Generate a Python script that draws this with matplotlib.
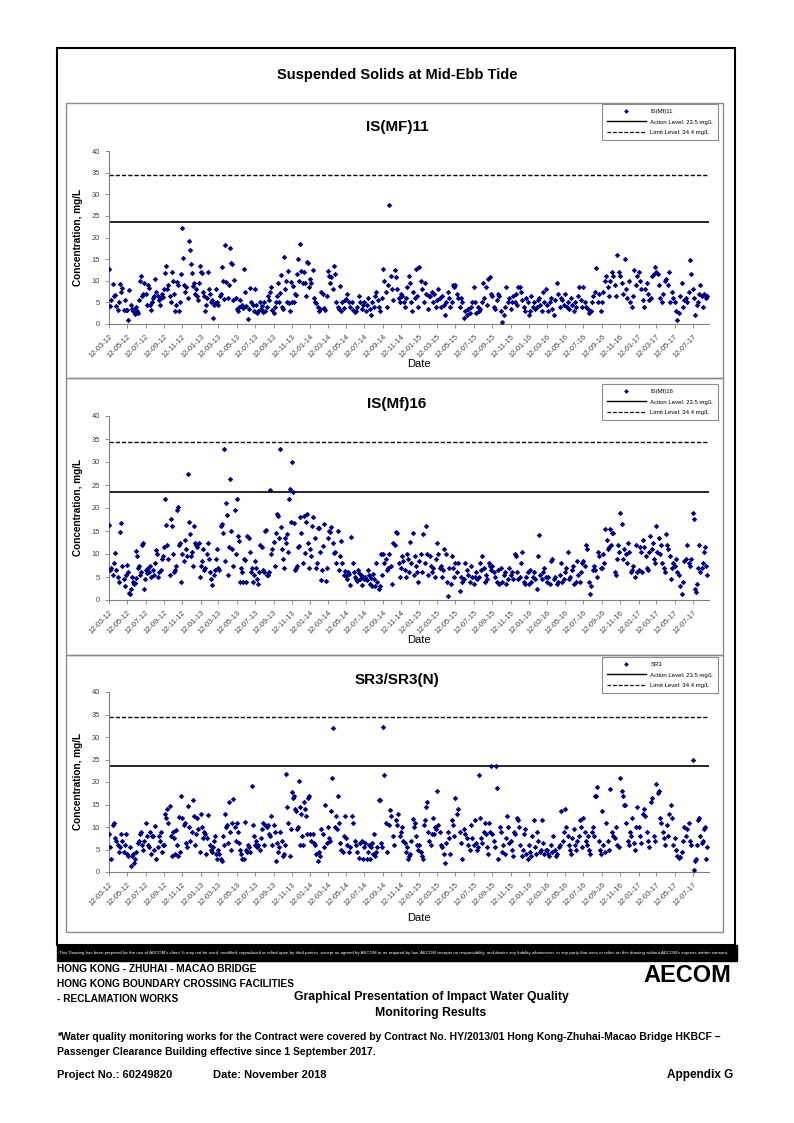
import matplotlib
matplotlib.use('Agg')
import matplotlib.pyplot as plt
import matplotlib.dates as mdates
from matplotlib.lines import Line2D
from matplotlib.patches import Rectangle
import pandas as pd

plt.rcParams['font.family'] = ['Liberation Sans', 'DejaVu Sans']

# ---------------- data (values per two-month bin, Mar-Apr 2012 ... Jul-Aug 2017) ----------------
bin_start_first = '2012-03-12'
data_end = '2017-09-01'
action_level = 23.5
limit_level = 34.4

is_mf11 = [
    [12.8, 4.2, 5.5, 9.3, 6.5, 6.8, 4.2, 3.2, 5.0, 9.3, 7.5, 8.3, 3.3, 5.5, 3.3],
    [3.2, 1.0, 7.8, 4.5, 3.5, 3.0, 3.2, 2.3, 4.0, 3.0, 2.5, 5.5, 10.0, 11.0, 6.5, 7.0, 9.5],
    [7.0, 4.5, 9.0, 8.3, 4.5, 3.2, 5.0, 6.0, 6.5, 10.3, 7.5, 6.5, 5.5, 4.5, 6.0, 7.0, 6.3],
    [8.0, 11.8, 13.5, 8.0, 9.0, 6.5, 5.0, 12.0, 10.0, 7.0, 3.0, 4.3, 9.8, 9.0, 3.0, 5.0, 11.6],
    [22.3, 15.2, 9.0, 7.5, 8.5, 6.0, 19.3, 17.0, 13.9, 11.8, 8.8, 9.5, 7.0, 8.0, 6.5, 5.5, 9.5, 13.5],
    [12.0, 11.8, 7.5, 6.5, 3.0, 4.5, 6.0, 12.0, 8.0, 7.0, 5.0, 5.5, 1.5, 4.3, 4.8, 8.2, 5.0],
    [4.5, 6.5, 7.0, 13.2, 10.0, 5.7, 18.3, 9.7, 6.0, 9.0, 17.5, 14.0, 13.9, 5.5, 10.2, 6.0],
    [3.5, 3.0, 4.0, 5.6, 4.4, 3.8, 12.8, 7.5, 4.2, 1.2, 3.5, 8.3, 5.0, 4.5, 3.0],
    [8.2, 4.5, 2.5, 3.0, 5.0, 3.5, 4.2, 2.8, 5.2, 3.0, 4.0, 6.5, 5.5, 7.5, 8.5, 3.2],
    [2.5, 4.0, 5.0, 6.5, 9.5, 5.0, 7.2, 11.3, 4.0, 3.5, 15.4, 8.0, 10.0, 5.0, 12.2, 4.8, 3.0, 9.8],
    [5.0, 8.8, 5.2, 7.0, 6.7, 11.5, 15.0, 10.0, 18.5, 12.3, 9.5, 12.0, 9.5, 6.5, 14.3, 14.2, 8.5],
    [10.5, 9.5, 12.6, 6.0, 5.0, 4.8, 4.0, 3.0, 3.5, 7.5, 7.0, 3.8, 3.2, 6.5],
    [12.2, 11.0, 9.5, 10.8, 8.0, 13.3, 11.5, 5.0, 4.0, 3.5, 8.7, 3.0, 5.0, 3.7, 5.5],
    [5.8, 7.0, 5.0, 4.0, 5.2, 3.2, 2.7, 3.0, 4.0, 6.5, 5.0, 3.5, 4.5],
    [5.0, 3.0, 4.5, 6.0, 3.5, 2.0, 5.2, 4.0, 6.5, 7.5, 5.5, 4.0, 3.0, 6.0],
    [12.7, 10.0, 7.5, 4.0, 9.0, 27.5, 11.0, 8.0, 5.5, 12.6, 10.8, 8.0, 6.0, 5.0],
    [7.0, 6.5, 5.0, 4.0, 6.0, 8.5, 11.0, 9.5, 5.0, 3.0, 7.5, 6.0, 12.7, 6.5, 4.0],
    [13.1, 10.0, 8.0, 5.0, 9.5, 7.0, 3.5, 6.5, 6.5, 7.5, 5.0, 7.0, 4.0],
    [5.5, 8.0, 6.0, 4.0, 6.5, 4.5, 2.0, 5.0, 7.5, 6.0, 4.0, 5.0, 9.0, 8.5],
    [9.0, 7.0, 6.0, 4.0, 6.0, 5.0, 1.5, 3.0, 2.0, 3.5, 2.5, 4.0, 5.0],
    [8.5, 5.0, 2.5, 4.0, 3.0, 3.5, 5.0, 9.5, 6.0, 8.5, 4.5, 10.5, 10.9, 7.0],
    [6.5, 4.0, 3.5, 5.5, 7.0, 6.5, 3.0, 0.5, 2.0, 4.0, 8.5, 5.0, 6.0],
    [3.5, 5.0, 6.5, 5.0, 7.0, 4.5, 8.5, 8.5, 7.5, 5.5, 4.0, 3.0, 6.0, 5.0],
    [2.0, 3.0, 6.5, 4.0, 5.0, 3.5, 4.0, 5.5, 6.0, 4.5, 3.0, 7.5, 5.0, 8.0],
    [4.5, 3.0, 5.0, 6.0, 3.5, 2.0, 5.5, 9.5, 7.0, 4.0, 6.0, 5.5, 4.5],
    [7.0, 4.0, 5.0, 3.5, 6.0, 4.5, 3.0, 5.0, 4.0, 6.5, 8.5, 5.5, 4.0],
    [8.5, 5.0, 4.0, 3.5, 2.5, 3.0, 5.0, 6.5, 7.5, 13.0, 5.0, 7.0, 3.0],
    [5.0, 7.5, 10.0, 11.0, 8.5, 6.5, 10.0, 12.0, 11.0, 9.0, 6.5, 15.9, 12.0],
    [11.0, 9.5, 7.0, 15.0, 8.0, 6.0, 10.0, 5.0, 4.0, 6.5, 12.5, 9.0, 11.0],
    [12.0, 10.0, 8.0, 5.5, 4.0, 8.0, 9.5, 7.0, 5.5, 6.0, 11.0, 11.5, 13.2],
    [12.0, 11.5, 9.0, 6.0, 5.0, 7.0, 10.0, 10.5, 9.0, 12.0, 5.0, 7.5, 6.0],
    [5.0, 3.0, 1.0, 2.5, 6.5, 9.5, 4.0, 5.5, 6.0, 5.0, 7.5, 14.9, 11.5],
    [8.0, 6.0, 2.0, 4.5, 5.0, 7.0, 9.0, 6.5, 4.0, 7.0, 6.0, 6.5],
]

is_mf16 = [
    [16.2, 6.5, 7.0, 5.5, 8.0, 10.3, 6.5, 5.0, 4.0, 14.7, 16.8, 7.5, 4.5, 3.0, 5.5],
    [7.7, 6.0, 1.5, 1.2, 2.5, 5.0, 4.0, 3.5, 3.8, 4.8, 10.7, 9.5, 7.0, 7.5, 5.5, 6.0, 12.0, 12.3, 2.3, 4.5],
    [6.5, 5.8, 7.0, 6.0, 7.5, 5.0, 6.5, 5.5, 8.0, 10.8, 10.0, 5.0, 6.0, 6.5, 9.0, 9.5],
    [11.5, 22.0, 16.3, 12.0, 9.0, 5.5, 17.7, 16.0, 10.0, 6.0, 6.5, 7.5, 19.5, 20.2, 12.0, 12.5, 4.0],
    [10.0, 8.5, 13.0, 11.0, 9.5, 27.3, 17.0, 14.3, 9.5, 10.5, 7.5, 16.0, 12.5, 12.0, 11.5, 12.3, 5.0],
    [7.5, 8.5, 11.0, 6.5, 7.0, 10.0, 12.3, 9.0, 6.0, 4.5, 3.3, 5.5, 6.5, 9.0, 11.0],
    [7.0, 6.5, 16.0, 16.5, 14.5, 32.8, 8.5, 21.0, 18.5, 5.5, 11.5, 26.3, 15.0, 11.0, 7.5, 19.5, 10.0],
    [22.0, 14.0, 12.8, 4.0, 7.0, 6.0, 4.0, 9.0, 8.7, 4.0, 14.0, 13.5, 10.5, 6.0, 7.0, 4.0, 5.5],
    [8.5, 7.0, 4.5, 3.5, 6.0, 12.0, 11.5, 6.5, 6.0, 15.0, 15.2, 5.5, 5.5, 6.0, 24.0, 10.0, 11.0],
    [12.7, 7.5, 14.5, 18.7, 18.3, 13.5, 32.8, 15.8, 11.0, 9.0, 7.0, 13.5, 12.5, 14.3, 10.5, 22.0, 24.2, 17.0],
    [30.0, 23.5, 16.8, 6.5, 7.0, 7.5, 11.5, 11.7, 18.0, 14.6, 8.0, 18.2, 10.3, 17.0, 18.8, 12.5, 7.0],
    [11.0, 9.5, 16.0, 18.0, 13.5, 7.0, 8.0, 15.7, 15.7, 10.5, 4.3, 6.5, 11.7, 16.5, 4.2, 7.0],
    [13.5, 15.0, 14.7, 15.8, 12.5, 10.2, 10.4, 8.0, 15.0, 6.5, 9.5, 12.8, 8.0, 5.5, 6.2],
    [5.3, 4.5, 6.0, 5.7, 3.3, 13.8, 8.0, 6.0, 5.0, 4.5, 4.2, 6.5, 5.8, 4.5, 5.5, 3.3, 5.0],
    [4.5, 5.0, 4.3, 6.5, 5.5, 3.5, 4.7, 3.0, 5.6, 4.5, 3.0, 8.0, 4.0, 2.3, 3.0, 10.0, 5.5],
    [10.0, 8.0, 9.0, 6.5, 7.0, 10.0, 7.5, 3.5, 12.3, 12.0, 14.8, 14.5, 8.0, 5.0],
    [7.0, 9.5, 8.5, 6.5, 5.0, 10.0, 9.0, 6.0, 12.6, 8.0, 14.5, 5.5, 9.5, 7.5, 6.0, 4.0],
    [8.5, 10.0, 6.0, 14.3, 8.0, 16.0, 10.0, 5.5, 9.5, 7.5, 6.0, 7.0, 5.0, 9.0],
    [12.5, 10.0, 7.0, 7.5, 5.0, 6.5, 11.0, 10.0, 4.0, 0.8, 7.0, 3.5, 9.5, 7.0, 5.0],
    [8.0, 6.0, 8.0, 2.0, 5.0, 4.0, 4.5, 8.0, 6.5, 5.5, 4.0, 7.5, 5.0],
    [3.5, 5.0, 6.0, 4.5, 5.0, 8.0, 6.5, 9.5, 7.0, 4.0, 5.5, 4.5, 8.0, 7.5, 6.5],
    [7.5, 6.0, 5.0, 4.0, 6.5, 3.5, 7.0, 4.0, 5.5, 6.0, 3.5, 4.5, 7.0],
    [5.5, 6.0, 4.5, 10.1, 9.5, 6.0, 4.5, 5.0, 8.0, 10.5, 4.0, 3.5, 5.0, 6.0],
    [3.5, 6.5, 4.0, 5.0, 6.0, 4.5, 2.5, 9.5, 14.2, 5.5, 4.5, 6.0, 7.0, 5.0],
    [4.0, 5.0, 3.5, 8.5, 9.0, 4.5, 5.0, 3.5, 4.0, 5.5, 8.0, 4.0, 4.5],
    [6.0, 7.0, 10.5, 4.5, 5.0, 6.5, 7.5, 3.5, 4.0, 8.5, 5.5, 4.0, 6.0, 8.0],
    [8.5, 7.5, 12.0, 11.0, 4.0, 1.2, 3.0, 6.5, 7.5, 6.5, 5.0, 10.5, 9.5, 7.0],
    [7.0, 10.0, 8.0, 15.5, 13.0, 11.0, 11.5, 15.5, 12.0, 14.5, 14.5, 6.0, 5.5, 9.0, 12.0, 10.5],
    [19.0, 16.5, 9.0, 11.0, 10.0, 8.0, 12.5, 10.5, 6.0, 6.5, 7.5, 5.0, 12.0, 6.0],
    [6.5, 11.5, 10.5, 6.0, 13.0, 11.5, 9.5, 7.0, 6.5, 10.5, 14.0, 11.0, 12.5, 9.0, 8.0],
    [16.0, 10.5, 13.5, 10.0, 12.0, 8.0, 7.0, 6.0, 14.3, 12.0, 11.0, 9.5, 4.5, 7.0, 8.0],
    [7.5, 9.0, 6.0, 5.5, 3.0, 1.3, 4.0, 8.5, 9.0, 12.0, 8.0, 7.5, 9.0],
    [18.9, 17.7, 2.5, 1.8, 3.5, 7.0, 12.0, 6.0, 7.0, 8.0, 10.5, 11.5, 7.5, 5.5],
]

sr3 = [
    [8.5, 5.5, 3.0, 10.5, 11.0, 7.5, 7.0, 6.0, 4.5, 5.5, 8.5, 7.0, 4.5, 6.0, 8.5],
    [4.0, 3.5, 5.5, 1.3, 3.5, 4.0, 2.0, 3.0, 4.5, 6.5, 7.0, 8.5, 9.0, 6.0, 5.0, 7.0],
    [11.0, 8.0, 6.0, 5.5, 9.0, 4.0, 8.0, 8.0, 5.0, 10.3, 3.0, 5.5, 8.0, 7.0, 9.0, 4.5, 6.0],
    [6.0, 13.0, 12.0, 14.0, 11.0, 14.6, 8.0, 3.5, 9.0, 7.5, 4.0, 9.3, 6.0, 3.5, 12.2, 4.5, 16.9],
    [12.0, 10.5, 11.0, 6.5, 5.5, 14.7, 10.0, 7.0, 9.0, 16.0, 12.5, 6.0, 8.5, 12.0, 9.5, 4.5],
    [13.0, 10.0, 7.5, 9.0, 8.5, 4.0, 7.5, 12.6, 6.0, 5.0, 4.5, 5.5, 7.0, 8.0, 4.0, 3.0],
    [5.0, 4.0, 3.0, 2.5, 8.0, 6.0, 13.0, 10.0, 10.5, 6.5, 15.5, 9.0, 5.0, 11.0, 16.2, 10.0, 7.0],
    [11.0, 9.0, 6.5, 5.0, 4.0, 3.0, 3.0, 11.2, 5.0, 4.5, 6.0, 5.5, 4.5, 19.2, 10.5, 8.0],
    [6.0, 7.0, 5.5, 6.0, 5.0, 7.5, 9.5, 11.0, 6.0, 10.5, 10.0, 10.5, 8.5, 8.0, 12.5, 6.0],
    [10.5, 9.0, 2.5, 6.5, 4.5, 5.5, 9.0, 7.0, 3.5, 4.0, 6.0, 21.7, 14.5, 11.0, 3.5, 9.5],
    [17.8, 16.5, 17.0, 14.0, 13.5, 9.5, 10.0, 20.2, 6.0, 14.5, 13.0, 8.0, 6.0, 15.5, 14.0, 12.5, 8.5, 16.5, 17.0],
    [8.5, 7.0, 8.5, 6.5, 6.0, 4.0, 2.5, 4.5, 3.5, 9.5, 8.5, 5.5, 15.0, 6.5],
    [10.0, 7.5, 7.0, 13.5, 21.0, 32.0, 10.0, 12.5, 9.5, 17.0, 11.0, 6.5, 5.0, 4.5, 8.0, 12.5],
    [7.5, 6.0, 4.5, 5.5, 12.5, 11.0, 7.0, 6.0, 4.5, 3.2, 6.5, 7.0, 3.0],
    [5.5, 6.5, 3.0, 4.5, 6.0, 2.8, 5.5, 6.5, 4.0, 8.5, 3.5, 4.5, 5.5, 15.9, 16.0, 6.5, 5.5],
    [32.3, 21.5, 11.0, 4.5, 10.5, 13.8, 12.5, 8.0, 6.0, 11.5, 10.5, 13.0, 8.0],
    [9.0, 10.0, 7.0, 6.5, 4.5, 5.5, 3.0, 3.5, 4.0, 7.0, 11.7, 10.0, 11.0, 8.0, 6.0, 5.0],
    [6.0, 4.5, 3.5, 3.0, 10.5, 11.5, 14.5, 15.5, 9.0, 7.0, 6.0, 8.5, 12.0, 8.5, 10.0, 9.5],
    [18.1, 10.5, 9.0, 6.0, 5.5, 4.0, 2.0, 6.5, 9.0, 7.5, 4.0, 11.5, 10.5, 8.0],
    [16.5, 13.0, 14.0, 9.0, 6.5, 3.0, 9.5, 8.5, 7.5, 6.0, 5.0, 10.5, 7.5],
    [6.0, 11.5, 6.5, 5.0, 5.5, 21.5, 12.0, 7.5, 6.5, 9.0, 11.0, 8.5, 5.5, 4.0, 11.0, 9.0, 23.6],
    [8.5, 7.0, 5.5, 23.5, 18.7, 3.0, 10.0, 9.0, 4.5, 6.0, 4.0, 7.5, 12.5, 10.0, 6.5],
    [7.0, 5.0, 3.5, 9.0, 8.5, 12.0, 11.5, 10.0, 6.0, 3.5, 5.0, 8.5, 9.5, 4.0, 3.0],
    [6.0, 4.5, 3.5, 8.0, 11.5, 5.5, 4.0, 9.0, 7.0, 4.5, 5.0, 11.5, 6.5, 4.0, 5.0],
    [5.0, 4.0, 3.5, 6.0, 4.5, 8.0, 5.0, 3.5, 4.0, 5.5, 6.0, 13.5, 7.0, 9.0],
    [14.0, 10.0, 8.0, 6.0, 5.0, 4.0, 7.5, 9.5, 6.0, 5.0, 7.0, 8.0, 11.5, 10.0, 5.5],
    [12.0, 9.0, 7.0, 6.0, 8.0, 5.0, 4.0, 9.0, 10.0, 8.0, 17.0, 17.0, 19.0, 7.0, 5.0, 4.0],
    [13.5, 6.0, 4.5, 11.0, 7.0, 5.0, 18.5, 9.0, 8.0, 7.5, 10.0, 6.0, 5.5],
    [21.0, 18.0, 17.0, 15.0, 15.0, 11.0, 7.0, 6.0, 9.0, 8.0, 12.0, 6.5, 5.0, 10.0, 14.5],
    [10.0, 8.0, 6.5, 13.0, 14.0, 12.5, 9.0, 7.0, 5.5, 15.5, 16.5, 8.0, 7.0],
    [19.5, 17.5, 18.0, 12.0, 11.0, 9.0, 7.5, 6.0, 10.5, 8.0, 13.0, 15.0, 12.0, 6.0],
    [7.5, 5.0, 3.5, 3.2, 3.3, 4.5, 7.0, 10.0, 8.0, 9.5, 11.0, 7.0, 6.0],
    [24.8, 0.5, 2.5, 3.0, 6.0, 11.5, 12.0, 8.0, 6.5, 7.0, 9.5, 10.0, 3.0, 5.5],
]

panel_titles = ['IS(MF)11', 'IS(Mf)16', 'SR3/SR3(N)']
legend_names = ['IS(Mf)11', 'IS(Mf)16', 'SR3']
panel_values = [is_mf11, is_mf16, sr3]

# ---------------- helpers ----------------
W, H = 794, 1123
fig = plt.figure(figsize=(W / 100, H / 100), dpi=100)


def fx(px):
    return px / W


def fy(py):
    return 1 - py / H


bin_starts = list(pd.date_range(bin_start_first, periods=33, freq=pd.DateOffset(months=2)))
bin_ends = bin_starts[1:] + [pd.Timestamp(data_end)]


def expand(bins):
    dates, vals = [], []
    for s, e, vs in zip(bin_starts, bin_ends, bins):
        n = len(vs)
        for i, v in enumerate(vs):
            dates.append(s + (e - s) * (i / n))
            vals.append(v)
    return dates, vals


# ---------------- outer frame & panel boxes ----------------
fig.patches.append(Rectangle((fx(57), fy(945)), fx(735) - fx(57), fy(48) - fy(945),
                             transform=fig.transFigure, fill=False, edgecolor='black', lw=1.5))
fig.text(fx(397), fy(75), 'Suspended Solids at Mid-Ebb Tide', ha='center', va='center',
         fontsize=10.5, fontweight='bold')

panel_boxes = [(103, 378), (378, 655), (655, 932)]
axes_px = [(151, 324), (416, 600), (692, 872)]
title_y = [127, 404, 680]
date_y = [364, 640, 918]
legend_top = [104, 384, 657]

for k in range(3):
    top, bot = panel_boxes[k]
    fig.patches.append(Rectangle((fx(66), fy(bot)), fx(723) - fx(66), fy(top) - fy(bot),
                                 transform=fig.transFigure, fill=False, edgecolor='#8c8c8c', lw=1.0))
    atop, abot = axes_px[k]
    ax = fig.add_axes([fx(109), fy(abot), fx(709) - fx(109), fy(atop) - fy(abot)])
    d, v = expand(panel_values[k])
    ax.plot(d, v, linestyle='none', marker='D', markersize=2.8, color='#000080',
            markeredgewidth=0, label=legend_names[k], zorder=3)
    ax.axhline(action_level, color='black', lw=1.2, label='Action Level: 23.5 mg/L')
    ax.axhline(limit_level, color='black', lw=1.0, linestyle=(0, (3, 1.5)),
               label='Limit Level: 34.4 mg/L')
    ax.set_ylim(0, 40)
    ax.set_yticks(range(0, 41, 5))
    ax.set_xlim(pd.Timestamp('2012-03-12'), pd.Timestamp('2017-09-04'))
    ax.xaxis.set_major_locator(mdates.MonthLocator(bymonth=[1, 3, 5, 7, 9, 11], bymonthday=12))
    ax.xaxis.set_major_formatter(mdates.DateFormatter('%d-%m-%y'))
    for s in ['top', 'right']:
        ax.spines[s].set_visible(False)
    for s in ['left', 'bottom']:
        ax.spines[s].set_color('#7f7f7f')
        ax.spines[s].set_linewidth(0.8)
    ax.tick_params(axis='both', colors='#7f7f7f', length=3, width=0.6, labelsize=5.4,
                   labelcolor='#404040', direction='out')
    for lab in ax.get_xticklabels():
        lab.set_rotation(45)
        lab.set_ha('right')
        lab.set_rotation_mode('anchor')
    ax.patch.set_alpha(0)

    fig.text(fx(397), fy(title_y[k]), panel_titles[k], ha='center', va='center',
             fontsize=11, fontweight='bold')
    fig.text(fx(419), fy(date_y[k]), 'Date', ha='center', va='center', fontsize=8)
    fig.text(fx(78), fy((atop + abot) / 2), 'Concentration, mg/L', ha='center', va='center',
             rotation=90, fontsize=7.2, fontweight='bold')

    handles = [Line2D([], [], linestyle='none', marker='D', markersize=2.4, color='#000080',
                      markeredgewidth=0),
               Line2D([], [], color='black', lw=1.0),
               Line2D([], [], color='black', lw=0.9, linestyle=(0, (3, 1.5)))]
    labels = [legend_names[k], 'Action Level: 23.5 mg/L', 'Limit Level: 34.4 mg/L']
    leg = ax.legend(handles, labels, loc='upper right',
                    bbox_to_anchor=(fx(718), fy(legend_top[k])), bbox_transform=fig.transFigure,
                    fontsize=4.3, frameon=True, fancybox=False, handlelength=6.5,
                    borderpad=0.8, labelspacing=0.9, handletextpad=0.8, borderaxespad=0)
    leg.get_frame().set_edgecolor('#707070')
    leg.get_frame().set_linewidth(0.8)

# ---------------- footer ----------------
fig.patches.append(Rectangle((fx(57), fy(961)), fx(737) - fx(57), fy(945) - fy(961),
                             transform=fig.transFigure, facecolor='black', edgecolor='black'))
disclaimer = ("This Drawing has been prepared for the use of AECOM's client. It may not be used, modified, "
              "reproduced or relied upon by third parties, except as agreed by AECOM or as required by law. "
              "AECOM accepts no responsibility, and denies any liability whatsoever, to any party that uses "
              "or relies on this drawing without AECOM's express written consent.")
fig.text(fx(59), fy(953), disclaimer, ha='left', va='center', fontsize=3.15, color='white',
         family=['Liberation Sans Narrow', 'Liberation Sans', 'DejaVu Sans'])

fig.text(fx(57), fy(969), 'HONG KONG - ZHUHAI - MACAO BRIDGE', ha='left', va='center',
         fontsize=7.3, fontweight='bold')
fig.text(fx(57), fy(984), 'HONG KONG BOUNDARY CROSSING FACILITIES', ha='left', va='center',
         fontsize=7.3, fontweight='bold')
fig.text(fx(57), fy(999), '- RECLAMATION WORKS', ha='left', va='center',
         fontsize=7.3, fontweight='bold')
fig.text(fx(431), fy(997), 'Graphical Presentation of Impact Water Quality', ha='center',
         va='center', fontsize=8.8, fontweight='bold')
fig.text(fx(431), fy(1013), 'Monitoring Results', ha='center', va='center', fontsize=8.8,
         fontweight='bold')
fig.text(fx(731), fy(976), 'AECOM', ha='right', va='center', fontsize=17, fontweight='heavy')
fig.text(fx(57), fy(1037), '*Water quality monitoring works for the Contract were covered by Contract No. '
         'HY/2013/01 Hong Kong-Zhuhai-Macao Bridge HKBCF \u2013', ha='left', va='center',
         fontsize=7.5, fontweight='bold')
fig.text(fx(57), fy(1052), 'Passenger Clearance Building effective since 1 September 2017.', ha='left',
         va='center', fontsize=7.5, fontweight='bold')
fig.text(fx(57), fy(1075), 'Project No.: 60249820', ha='left', va='center', fontsize=8,
         fontweight='bold')
fig.text(fx(213), fy(1075), 'Date: November 2018', ha='left', va='center', fontsize=8,
         fontweight='bold')
fig.text(fx(733), fy(1075), 'Appendix G', ha='right', va='center', fontsize=8.5,
         fontweight='bold')

fig.savefig('out.png', dpi=100)
